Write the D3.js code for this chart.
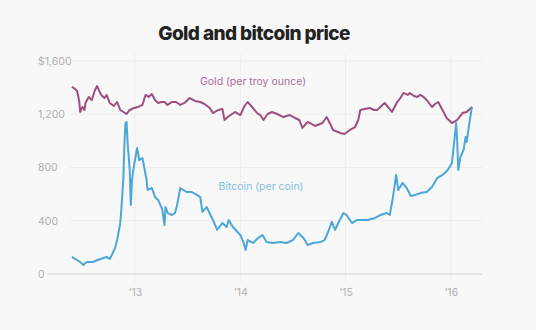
<!doctype html>
<html>
  <head>
    <meta charset="utf-8" />
    <title>Gold and bitcoin price</title>
    <script type="text/javascript" src="https://cdnjs.cloudflare.com/ajax/libs/d3/7.8.5/d3.min.js"></script>
    <style>
      body {
        margin:0;
        background:#f8f8f8;
        font-family:Inter, "Noto Sans", sans-serif;
      }
      .chart > svg {
        display:block;
      }
    </style>
  </head>
  <body>
    <div class="chart"></div>
    <script type="text/javascript">

/*dates are decimal years*/
var goldDates = [2012.40,2012.42,2012.45,2012.47,2012.48,2012.50,2012.52,2012.53,2012.56,2012.59,2012.62,2012.64,2012.66,2012.68,2012.71,2012.73,2012.76,2012.80,2012.83,2012.86,2012.89,2012.92,2012.95,2012.99,2013.03,2013.07,2013.10,2013.13,2013.16,2013.19,2013.22,2013.25,2013.28,2013.31,2013.35,2013.39,2013.43,2013.47,2013.52,2013.57,2013.62,2013.66,2013.71,2013.74,2013.79,2013.83,2013.85,2013.88,2013.95,2014.00,2014.04,2014.07,2014.12,2014.16,2014.19,2014.22,2014.26,2014.30,2014.35,2014.41,2014.47,2014.52,2014.56,2014.59,2014.64,2014.71,2014.78,2014.82,2014.85,2014.88,2014.95,2014.99,2015.04,2015.09,2015.12,2015.14,2015.18,2015.23,2015.27,2015.30,2015.33,2015.37,2015.41,2015.44,2015.49,2015.52,2015.55,2015.59,2015.61,2015.65,2015.68,2015.71,2015.74,2015.77,2015.82,2015.85,2015.88,2015.92,2015.96,2016.01,2016.06,2016.11,2016.15,2016.20];
var goldValues = [1405,1397,1375,1300,1217,1255,1232,1285,1330,1307,1382,1412,1375,1345,1322,1345,1285,1262,1292,1232,1217,1202,1232,1247,1255,1270,1345,1330,1352,1307,1285,1292,1292,1270,1292,1292,1270,1285,1322,1300,1292,1277,1247,1209,1232,1240,1157,1179,1217,1194,1262,1292,1247,1209,1194,1157,1202,1217,1202,1179,1194,1172,1157,1097,1142,1112,1134,1179,1134,1082,1059,1052,1082,1104,1157,1232,1240,1247,1232,1232,1255,1285,1247,1217,1292,1322,1360,1345,1360,1337,1330,1345,1330,1307,1255,1277,1292,1232,1172,1134,1157,1209,1217,1255];

var btcDates = [2012.40,2012.43,2012.45,2012.48,2012.51,2012.54,2012.60,2012.67,2012.73,2012.76,2012.78,2012.81,2012.83,2012.86,2012.87,2012.89,2012.90,2012.91,2012.92,2012.93,2012.95,2012.96,2012.97,2012.98,2013.00,2013.02,2013.04,2013.07,2013.08,2013.11,2013.12,2013.16,2013.19,2013.22,2013.26,2013.28,2013.29,2013.31,2013.35,2013.38,2013.40,2013.43,2013.46,2013.49,2013.54,2013.59,2013.62,2013.64,2013.68,2013.74,2013.78,2013.83,2013.87,2013.89,2013.93,2014.00,2014.03,2014.05,2014.07,2014.12,2014.17,2014.21,2014.25,2014.31,2014.38,2014.44,2014.50,2014.55,2014.60,2014.64,2014.69,2014.76,2014.80,2014.83,2014.87,2014.90,2014.93,2014.98,2015.01,2015.06,2015.11,2015.16,2015.21,2015.28,2015.33,2015.39,2015.42,2015.45,2015.48,2015.50,2015.54,2015.58,2015.62,2015.66,2015.71,2015.77,2015.82,2015.87,2015.92,2015.97,2016.01,2016.03,2016.05,2016.06,2016.07,2016.09,2016.12,2016.14,2016.15,2016.18,2016.20];
var btcValues = [128,113,105,90,68,90,90,113,128,113,143,195,255,383,481,729,984,1134,1142,984,781,518,684,766,856,946,856,871,834,706,631,646,578,556,481,368,503,458,443,458,518,646,631,616,616,593,578,466,503,406,331,383,353,406,353,293,240,180,255,233,270,293,240,233,240,233,255,308,270,218,233,240,255,308,391,331,383,458,443,383,406,406,406,421,443,458,443,578,744,631,684,646,586,593,608,616,654,721,744,781,834,984,1134,992,781,879,931,1029,992,1157,1255];

var yTicks = [0, 400, 800, 1200, 1600];
var xTicks = [2013, 2014, 2015, 2016];
var xTickLabels = ["\u201913", "\u201914", "\u201915", "\u201916"];

(function() {

var width = 536, height = 330;
var plotLeft = 47, plotRight = 482, plotTop = 61, plotBottom = 274;

var svg = d3.select(".chart").append("svg")
  .attr("width", width)
  .attr("height", height);

svg.append("rect")
  .attr("width", width)
  .attr("height", height)
  .attr("fill", "#f8f8f8");

/*x axis spans a bit more than the data, as in the picture*/
var x = d3.scaleLinear()
  .domain([2013 - (135 - plotLeft) / 105.3, 2013 + (plotRight - 135) / 105.3])
  .range([plotLeft, plotRight]);

var y = d3.scaleLinear()
  .domain([0, 1600])
  .range([plotBottom, plotTop]);

svg.append("text")
  .attr("x", 254)
  .attr("y", 40)
  .attr("text-anchor", "middle")
  .attr("font-size", 19)
  .attr("font-weight", 800)
  .attr("letter-spacing", -0.6)
  .attr("fill", "#222")
  .text("Gold and bitcoin price");

/*vertical grid at the year ticks*/
svg.append("g")
  .selectAll("line")
  .data(xTicks)
  .join("line")
  .attr("x1", d => x(d))
  .attr("x2", d => x(d))
  .attr("y1", 54)
  .attr("y2", 282)
  .attr("stroke", "#ededed")
  .attr("stroke-width", 1);

/*horizontal grid*/
svg.append("g")
  .selectAll("line")
  .data(yTicks.filter(d => d > 0))
  .join("line")
  .attr("x1", 70)
  .attr("x2", plotRight)
  .attr("y1", d => y(d))
  .attr("y2", d => y(d))
  .attr("stroke", "#ededed")
  .attr("stroke-width", 1);

svg.append("line")
  .attr("x1", plotLeft)
  .attr("x2", plotRight)
  .attr("y1", y(0))
  .attr("y2", y(0))
  .attr("stroke", "#dcdcdc")
  .attr("stroke-width", 1.5);

var yAxis = d3.axisLeft(y)
  .tickValues(yTicks)
  .tickSize(0)
  .tickFormat(d => d === 1600 ? "$1,600" : d3.format(",")(d));

svg.append("g")
  .attr("transform", "translate(38,0)")
  .call(yAxis)
  .call(g => g.select(".domain").remove())
  .selectAll("text")
  .attr("x", 0)
  .attr("text-anchor", "start")
  .attr("font-family", "Inter, sans-serif")
  .attr("font-size", 10.5)
  .attr("fill", "#b0b0b0");

var xAxis = d3.axisBottom(x)
  .tickValues(xTicks)
  .tickSize(0)
  .tickFormat((d, i) => xTickLabels[i]);

svg.append("g")
  .attr("transform", "translate(0,286)")
  .call(xAxis)
  .call(g => g.select(".domain").remove())
  .selectAll("text")
  .attr("font-family", "Inter, sans-serif")
  .attr("font-size", 10.5)
  .attr("fill", "#b0b0b0");

var line = d3.line()
  .x(d => x(d[0]))
  .y(d => y(d[1]));

svg.append("path")
  .datum(d3.zip(goldDates, goldValues))
  .attr("d", line)
  .attr("fill", "none")
  .attr("stroke", "#9d4f80")
  .attr("stroke-width", 2)
  .attr("stroke-linejoin", "round");

svg.append("path")
  .datum(d3.zip(btcDates, btcValues))
  .attr("d", line)
  .attr("fill", "none")
  .attr("stroke", "#4aa7d7")
  .attr("stroke-width", 2)
  .attr("stroke-linejoin", "round");

svg.append("text")
  .attr("x", 253)
  .attr("y", 85)
  .attr("text-anchor", "middle")
  .attr("font-size", 10.5)
  .attr("fill", "#a8709a")
  .text("Gold (per troy ounce)");

svg.append("text")
  .attr("x", 261)
  .attr("y", 190)
  .attr("text-anchor", "middle")
  .attr("font-size", 10.5)
  .attr("fill", "#7fbde0")
  .text("Bitcoin (per coin)");

})();

    </script>
  </body>
</html>
